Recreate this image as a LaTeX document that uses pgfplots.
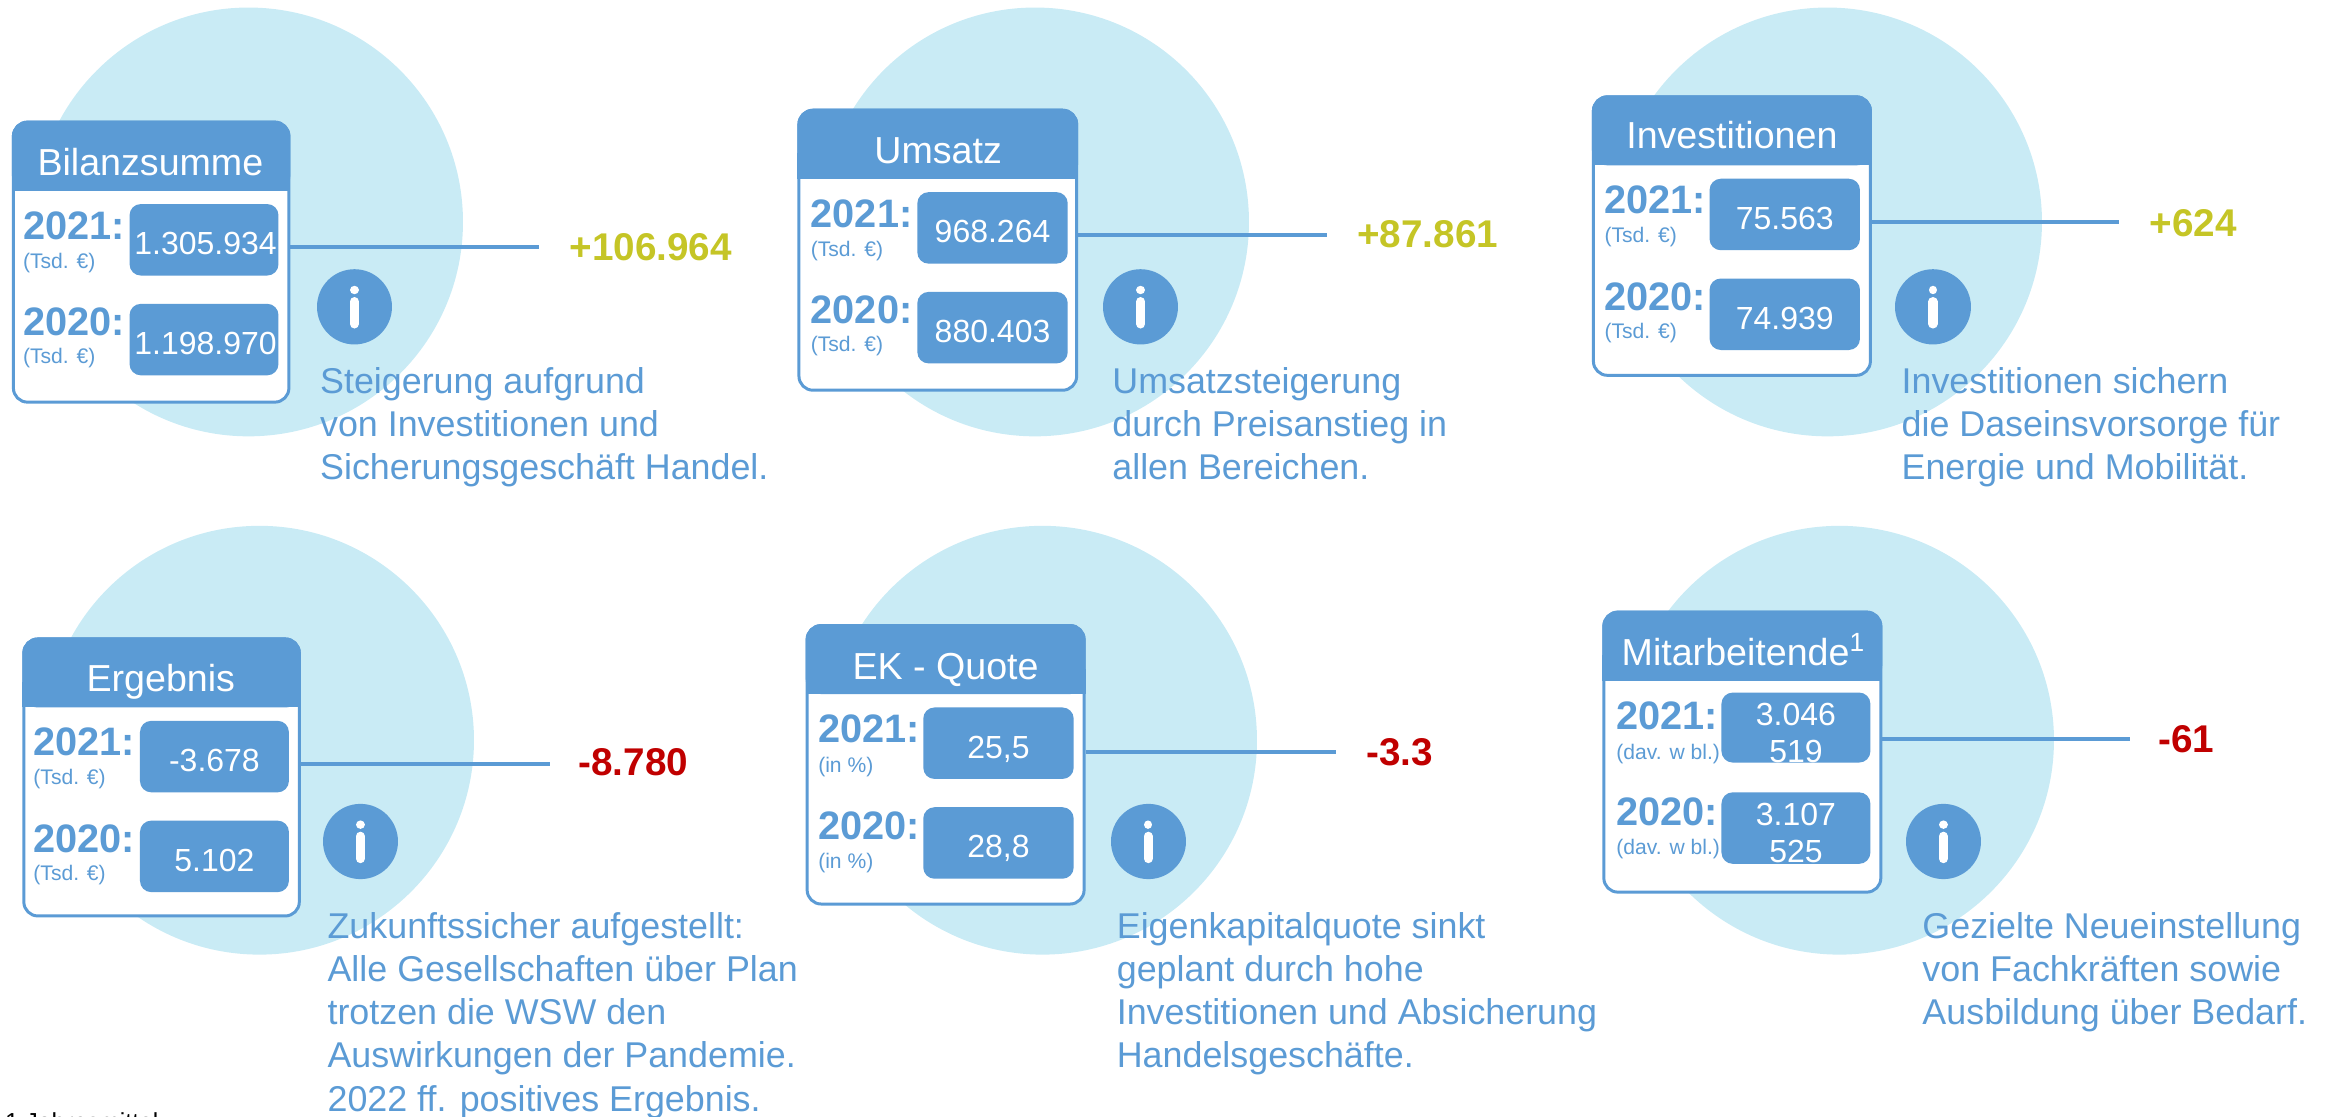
\documentclass[border=0pt]{standalone}
\usepackage{fontspec}
\setmainfont{Liberation Sans}
\usepackage{pgfplots}
\pgfplotsset{compat=1.18}
\definecolor{wswblue}{HTML}{5B9BD5}
\definecolor{wswlight}{HTML}{C9EBF5}
\definecolor{wswolive}{HTML}{C5C526}
\definecolor{wswred}{HTML}{C00000}

% marks always land on top of the plots, so discs are short round-capped strokes
% big background disc: cx, cy
\newcommand{\disc}[2]{\addplot[wswlight, line width=122pt, line cap=round] coordinates {(#1,#2) (#1,#2.01)};}
% card: x1, y1, x2, y2, header bottom, y where the header's square part starts
\newcommand{\card}[6]{%
  \addplot[draw=wswblue, line width=0.85pt, fill=white, rounded corners=4pt] coordinates {(#1,#5) (#1,#2) (#3,#2) (#3,#4) (#1,#4) (#1,#5)} --cycle;
  \addplot[draw=wswblue, line width=0.85pt, fill=wswblue, rounded corners=4pt] coordinates {(#1,#5) (#1,#2) (#3,#2) (#3,#5)} --cycle;
  \addplot[draw=wswblue, line width=0.85pt, fill=wswblue] coordinates {(#1,#6) (#3,#6) (#3,#5) (#1,#5)} --cycle;
}
% value box: x1, y1, x2, y2
\newcommand{\valbox}[4]{\addplot[draw=none, fill=wswblue, rounded corners=3.2pt] coordinates {(#1,#2) (#3,#2) (#3,#4) (#1,#4)} --cycle;}
% connecting line: x1, x2, y
\newcommand{\conn}[3]{\addplot[wswblue, line width=1.15pt] coordinates {(#1,#3) (#2,#3)};}
% info icon: cx, cy, dot y (with decimals), stem top, stem bottom
\newcommand{\info}[5]{%
  \addplot[wswblue, line width=21.4pt, line cap=round] coordinates {(#1,#2) (#1,#2.01)};
  \addplot[white, line width=2.4pt, line cap=round] coordinates {(#1,#3) (#1,#3 01)};
  \addplot[white, line width=2.6pt, line cap=round] coordinates {(#1,#4) (#1,#5)};
}
\newcommand{\ttl}[3]{\node[anchor=base, text=white, inner sep=0pt, font=\fontsize{10.7}{12}\selectfont] at (axis cs:#1,#2) {#3};}
\newcommand{\val}[3]{\node[anchor=base, text=white, inner sep=0pt, font=\fontsize{9.1}{11}\selectfont] at (axis cs:#1,#2) {#3};}
\newcommand{\yr}[3]{\node[anchor=base west, text=wswblue, inner sep=0pt, font=\fontsize{11.3}{12}\selectfont\bfseries] at (axis cs:#1,#2) {#3};}
\newcommand{\unit}[3]{\node[anchor=base west, text=wswblue, inner sep=0pt, font=\fontsize{6}{7}\selectfont] at (axis cs:#1,#2) {#3};}
\newcommand{\chg}[4]{\node[anchor=base west, text=#4, inner sep=0pt, font=\fontsize{11}{12}\selectfont\bfseries] at (axis cs:#1,#2) {#3};}
\newcommand{\note}[3]{\node[anchor=base west, text=wswblue, inner sep=0pt, font=\fontsize{10.2}{12}\selectfont] at (axis cs:#1,#2) {#3};}

\begin{document}
\begin{tikzpicture}
\path[use as bounding box, clip] (0,0) rectangle (23.35cm,11.17cm);
\begin{axis}[
  at={(0,0)}, anchor=south west,
  scale only axis,
  width=23.35cm, height=11.17cm,
  xmin=0, xmax=1568, ymin=0, ymax=750,
  y dir=reverse,
  hide axis, clip=false,
]
  \disc{167}{149}
  \disc{695}{149}
  \disc{1227}{149}
  \disc{174}{497}
  \disc{700}{497}
  \disc{1235}{497}

  % Bilanzsumme
  \conn{195}{362}{166}
  \card{9}{82}{194}{270}{127}{112}
  \valbox{87}{137}{187}{185}
  \valbox{87}{204}{187}{252}
  \ttl{101}{117.5}{Bilanzsumme}
  \yr{15}{160.5}{2021:} \unit{15}{180}{(Tsd. €)}
  \yr{15}{225.5}{2020:} \unit{15}{244}{(Tsd. €)}
  \val{138}{171}{1.305.934}
  \val{138}{238}{1.198.970}
  \chg{382}{175}{+106.964}{wswolive}
  \info{238}{206}{194.7}{202.5}{217.5}
  \note{214.5}{264}{Steigerung aufgrund}
  \note{214.5}{293}{von Investitionen und}
  \note{214.5}{322}{Sicherungsgeschäft Handel.}

  % Umsatz
  \conn{724}{891}{158}
  \card{536.5}{74}{723}{262}{119}{104}
  \valbox{616}{129}{717}{177}
  \valbox{616}{196}{717}{244}
  \ttl{630}{109.5}{Umsatz}
  \yr{544}{152.5}{2021:} \unit{544}{172}{(Tsd. €)}
  \yr{544}{217.5}{2020:} \unit{544}{236}{(Tsd. €)}
  \val{666.5}{163}{968.264}
  \val{666.5}{230}{880.403}
  \chg{911}{166}{+87.861}{wswolive}
  \info{766}{206}{194.7}{202.5}{217.5}
  \note{746.5}{264}{Umsatzsteigerung}
  \note{746.5}{293}{durch Preisanstieg in}
  \note{746.5}{322}{allen Bereichen.}

  % Investitionen
  \conn{1257}{1423}{149}
  \card{1070}{65}{1256}{252}{110}{95}
  \valbox{1148}{120}{1249}{168}
  \valbox{1148}{187}{1249}{235}
  \ttl{1163}{100}{Investitionen}
  \yr{1077}{143.5}{2021:} \unit{1077}{163}{(Tsd. €)}
  \yr{1077}{208.5}{2020:} \unit{1077}{227}{(Tsd. €)}
  \val{1198.5}{154}{75.563}
  \val{1198.5}{221}{74.939}
  \chg{1443}{159}{+624}{wswolive}
  \info{1298}{206}{194.7}{202.5}{217.5}
  \note{1276.5}{264}{Investitionen sichern}
  \note{1276.5}{293}{die Daseinsvorsorge für}
  \note{1276.5}{322}{Energie und Mobilität.}

  % Ergebnis
  \conn{202}{369}{513}
  \card{16}{429}{201}{615}{474}{459}
  \valbox{94}{484}{194}{532}
  \valbox{94}{551}{194}{599}
  \ttl{108}{464.5}{Ergebnis}
  \yr{22}{507.5}{2021:} \unit{22}{527}{(Tsd. €)}
  \yr{22}{572.5}{2020:} \unit{22}{591}{(Tsd. €)}
  \val{144}{518}{-3.678}
  \val{144}{585}{5.102}
  \chg{388}{521}{-8.780}{wswred}
  \info{242}{565}{553.7}{561.5}{576.5}
  \note{219.5}{630}{Zukunftssicher aufgestellt:}
  \note{219.5}{659}{Alle Gesellschaften über Plan}
  \note{219.5}{688}{trotzen die WSW den}
  \note{219.5}{717}{Auswirkungen der Pandemie.}
  \note{219.5}{746}{2022 ff. positives Ergebnis.}

  % EK - Quote
  \conn{729}{897}{505}
  \card{542}{420}{728}{607}{465}{450}
  \valbox{620}{475}{721}{523}
  \valbox{620}{542}{721}{590}
  \ttl{635}{456}{EK - Quote}
  \yr{549}{498.5}{2021:} \unit{549}{518.5}{(in \%)}
  \yr{549}{563.5}{2020:} \unit{549}{583}{(in \%)}
  \val{670.5}{509}{25,5}
  \val{670.5}{576}{28,8}
  \chg{917}{514}{-3.3}{wswred}
  \info{771}{565}{553.7}{561.5}{576.5}
  \note{749.5}{630}{Eigenkapitalquote sinkt}
  \note{749.5}{659}{geplant durch hohe}
  \note{749.5}{688}{Investitionen und Absicherung}
  \note{749.5}{717}{Handelsgeschäfte.}

  % Mitarbeitende
  \conn{1264}{1430}{496}
  \card{1077}{411}{1263}{599}{456}{441}
  \valbox{1156}{465}{1256}{512}
  \valbox{1156}{532}{1256}{580}
  \ttl{1171}{446.5}{Mitarbeitende\textsuperscript{1}}
  \yr{1085}{489.5}{2021:} \unit{1085}{510}{(dav. w bl.)}
  \yr{1085}{554.5}{2020:} \unit{1085}{574}{(dav. w bl.)}
  \val{1206}{487}{3.046}
  \val{1206}{512}{519}
  \val{1206}{554}{3.107}
  \val{1206}{579}{525}
  \chg{1449}{505}{-61}{wswred}
  \info{1305}{565}{553.7}{561.5}{576.5}
  \note{1290.5}{630}{Gezielte Neueinstellung}
  \note{1290.5}{659}{von Fachkräften sowie}
  \note{1290.5}{688}{Ausbildung über Bedarf.}

  \node[anchor=base west, inner sep=0pt, font=\fontsize{7}{8}\selectfont] at (axis cs:3,759) {1 Jahresmittel};
\end{axis}
\end{tikzpicture}
\end{document}
